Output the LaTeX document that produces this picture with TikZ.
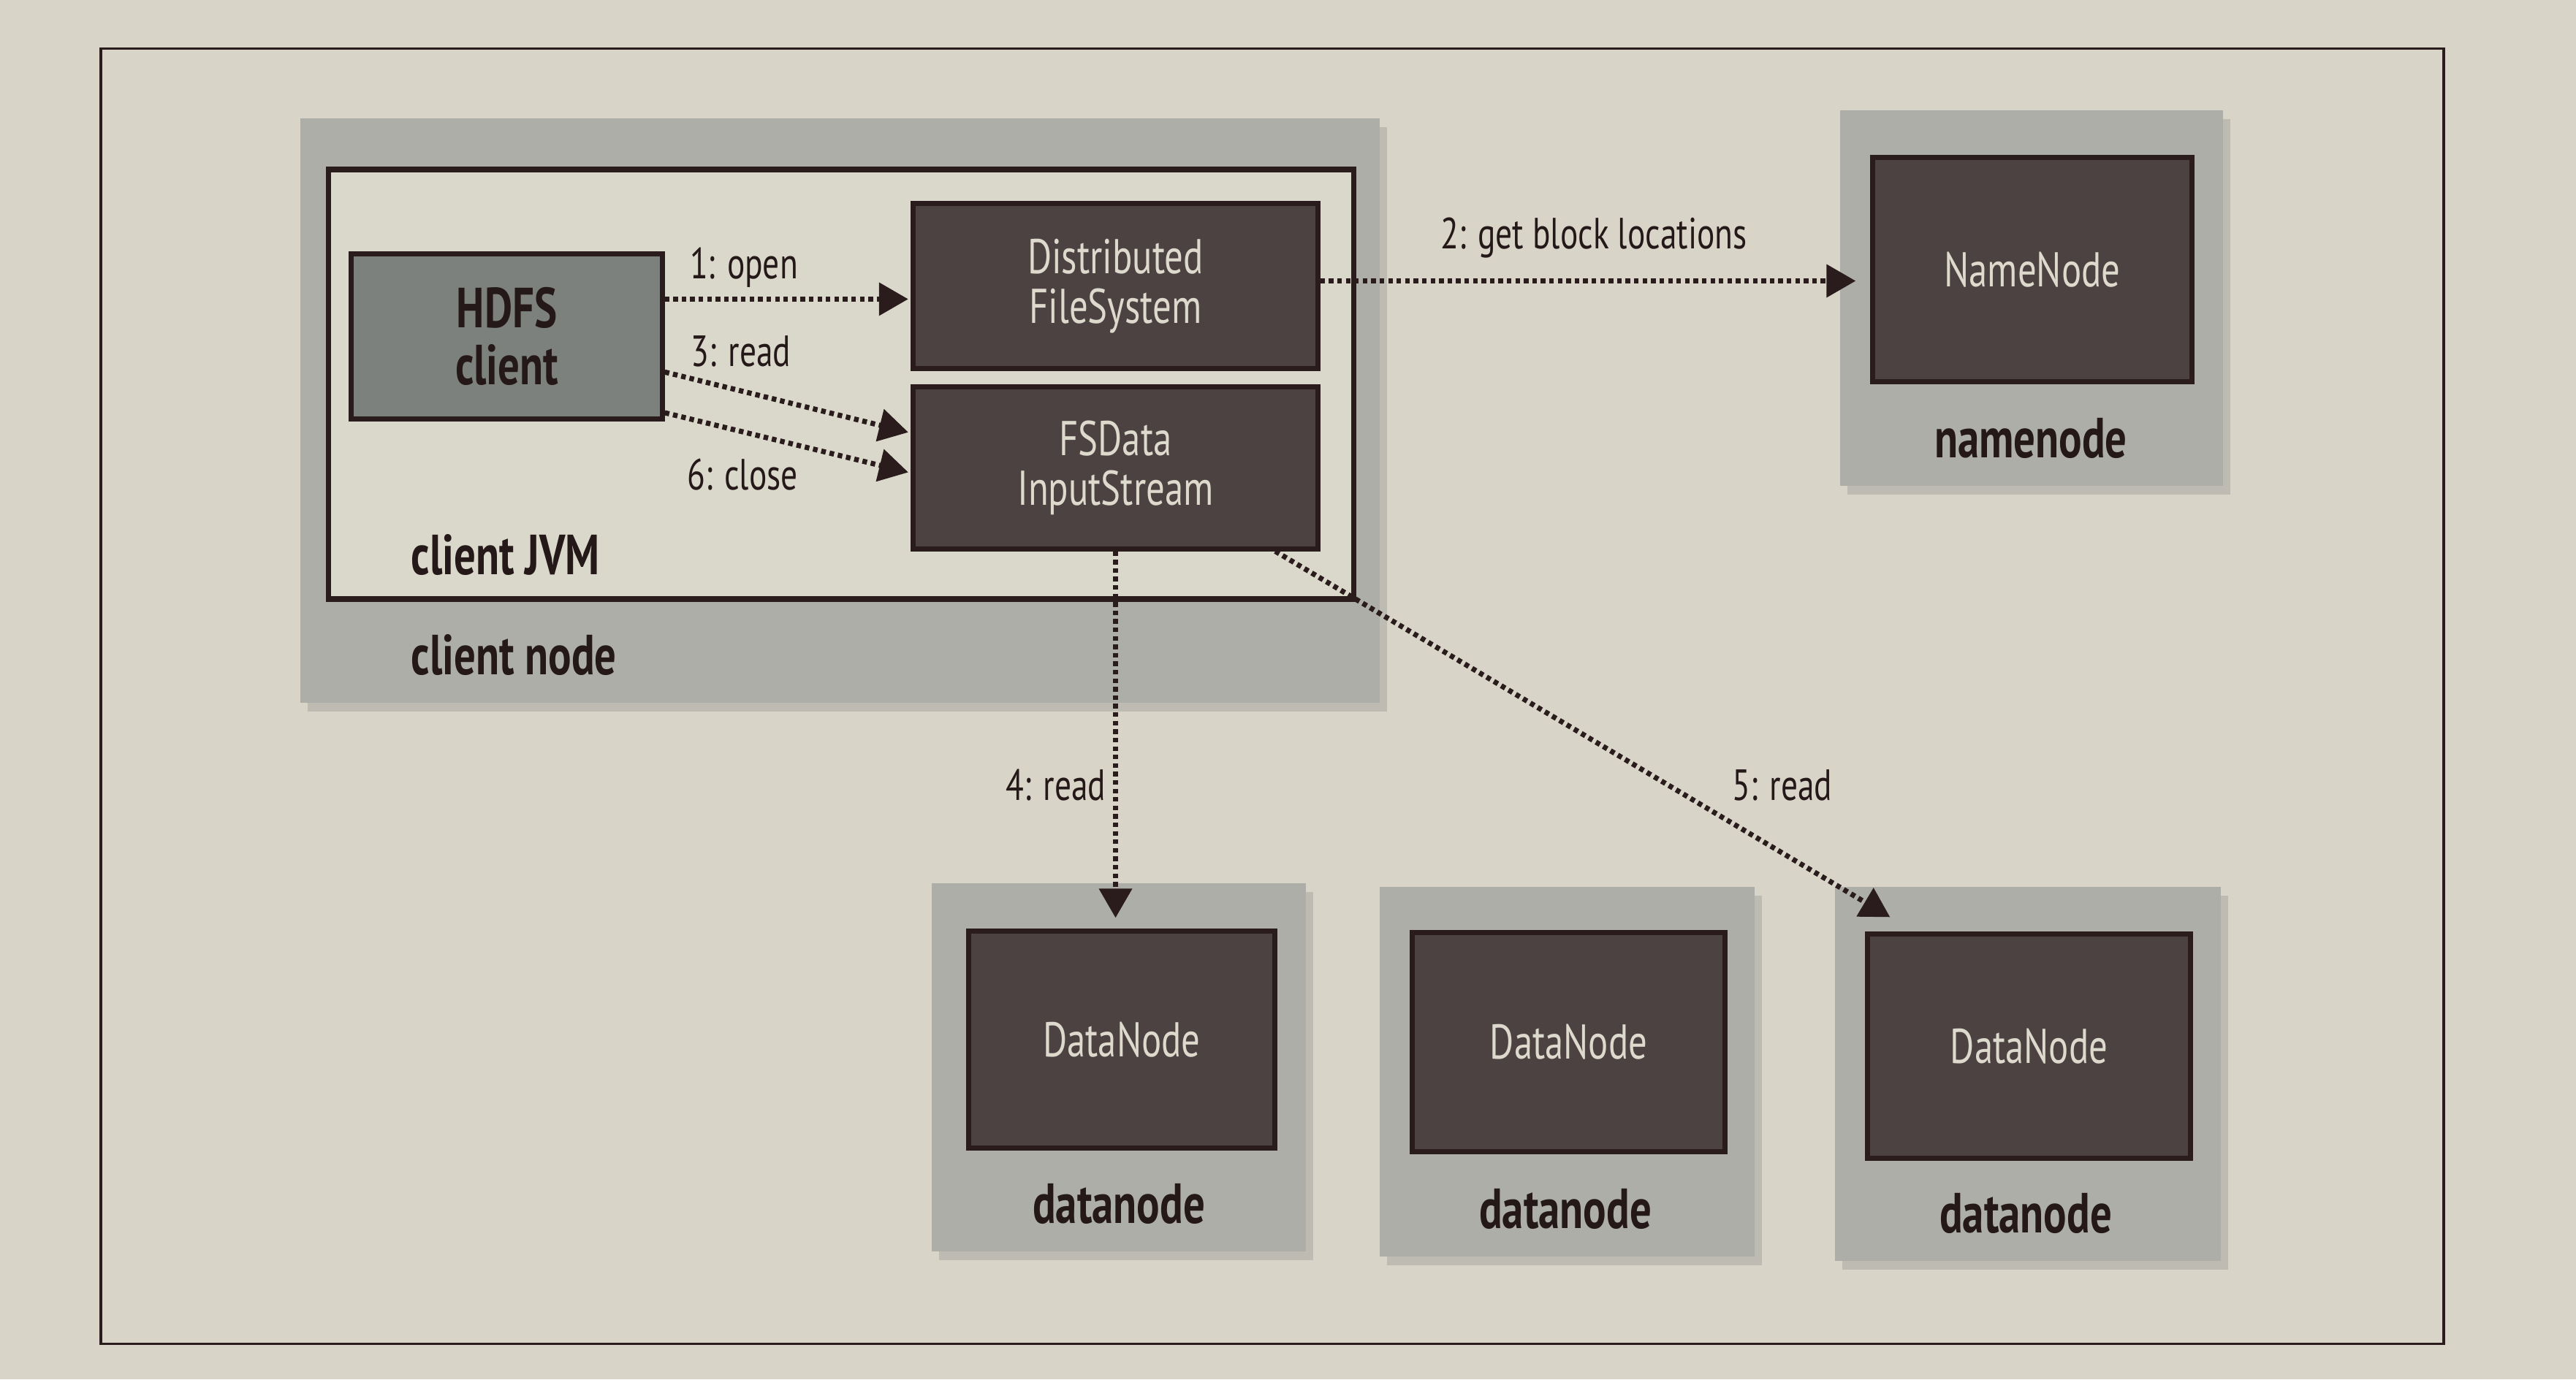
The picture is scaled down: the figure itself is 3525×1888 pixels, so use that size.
\documentclass[tikz,border=0pt]{standalone}
\usepackage{fontspec}
\setmainfont[FakeStretch=0.76]{PT Sans}
\usetikzlibrary{arrows.meta,shadows,calc}
\definecolor{pagecol}{RGB}{216,213,200}
\definecolor{graycol}{RGB}{172,174,167}
\definecolor{jvmcol}{RGB}{218,215,203}
\definecolor{midcol}{RGB}{125,129,125}
\definecolor{darkcol}{RGB}{76,66,66}
\definecolor{bordercol}{RGB}{42,28,28}
\definecolor{lighttext}{RGB}{222,217,205}
\definecolor{textcol}{RGB}{36,24,24}
\begin{document}
\begin{tikzpicture}[x=0.01cm,y=-0.01cm,
  graybox/.style={fill=graycol, inner sep=0pt,
    drop shadow={shadow xshift=0.1cm, shadow yshift=-0.12cm, opacity=0.3}},
  jvmbox/.style={fill=jvmcol, draw=bordercol, line width=2.2pt, inner sep=0pt},
  darkbox/.style={fill=darkcol, draw=bordercol, line width=2pt, inner sep=0pt,
    text=lighttext, align=center, font=\fontsize{19}{19.5}\selectfont},
  midbox/.style={fill=midcol, draw=bordercol, line width=2pt, inner sep=0pt,
    text=textcol, align=center, font=\bfseries\fontsize{22}{22}\selectfont},
  blbl/.style={text=textcol, font=\bfseries\fontsize{22}{24}\selectfont, inner sep=0pt},
  albl/.style={text=textcol, font=\fontsize{17}{20}\selectfont, inner sep=0pt},
  arr/.style={draw=bordercol, line width=2pt, dash pattern=on 1.8pt off 1.5pt,
    -{Triangle[length=0.4cm,width=0.44cm]}}
]
\fill[pagecol] (0,0) rectangle (3525,1888);
\useasboundingbox (0,0) rectangle (3525,1888);
\node[draw=bordercol, line width=1pt, minimum width=32.04cm, minimum height=17.72cm, inner sep=0pt] (frame) at (1741,953) {};

% client node
\node[graybox, minimum width=14.77cm, minimum height=8cm] (cnode) at (1149.5,562) {};
\node[jvmbox, minimum width=14.02cm, minimum height=5.88cm] (jvm) at (1151,526) {};
\node[midbox, minimum width=4.25cm, minimum height=2.25cm] (hdfs) at (693.5,460.5) {HDFS\\client};
\node[darkbox, minimum width=5.53cm, minimum height=2.25cm] (dfs) at (1526.5,391.5) {Distributed\\FileSystem};
\node[darkbox, minimum width=5.53cm, minimum height=2.21cm] (fsd) at (1526.5,640.5) {FSData\\InputStream};
\node[blbl, anchor=west] (jvmlbl) at (562,760) {client JVM};
\node[blbl, anchor=west] (cnlbl) at (562,897) {client node};

% namenode
\node[graybox, minimum width=5.24cm, minimum height=5.14cm] (nn) at (2780,408) {};
\node[darkbox, minimum width=4.36cm, minimum height=3.06cm] (nnin) at (2781,369) {NameNode};
\node[blbl] (nnlbl) at (2779,600) {namenode};

% datanodes
\node[graybox, minimum width=5.12cm, minimum height=5.04cm] (dn1) at (1531,1461) {};
\node[darkbox, minimum width=4.18cm, minimum height=2.96cm] (dn1in) at (1535,1423) {DataNode};
\node[blbl] (dn1lbl) at (1531,1648) {datanode};

\node[graybox, minimum width=5.13cm, minimum height=5.06cm] (dn2) at (2144.5,1467) {};
\node[darkbox, minimum width=4.27cm, minimum height=2.99cm] (dn2in) at (2146.5,1426.5) {DataNode};
\node[blbl] (dn2lbl) at (2142,1655) {datanode};

\node[graybox, minimum width=5.28cm, minimum height=5.12cm] (dn3) at (2775,1470) {};
\node[darkbox, minimum width=4.41cm, minimum height=3.06cm] (dn3in) at (2776.5,1432) {DataNode};
\node[blbl] (dn3lbl) at (2772,1661) {datanode};

% arrows
\coordinate (a1s) at ($(hdfs.north east)!0.28!(hdfs.south east)$);
\draw[arr, shorten >=1pt] (a1s) -- (a1s -| dfs.west);
\draw[arr, shorten >=1pt] ($(hdfs.north east)!0.71!(hdfs.south east)$) -- ($(fsd.north west)!0.29!(fsd.south west)$);
\draw[arr, shorten >=1pt] ($(hdfs.north east)!0.95!(hdfs.south east)$) -- ($(fsd.north west)!0.53!(fsd.south west)$);
\coordinate (a2s) at ($(dfs.north east)!0.47!(dfs.south east)$);
\draw[arr, shorten >=0.2cm] (a2s) -- (a2s -| nnin.west);
\draw[arr, shorten >=0.15cm] (fsd.south) -- (fsd.south |- dn1in.north);
\draw[arr] ($(fsd.south west)!0.89!(fsd.south east)$) -- ($(dn3in.north west)+(34,-20)$);

\node[albl] (l1) at (1018,366) {1: open};
\node[albl] (l3) at (1014,481) {3: read};
\node[albl] (l6) at (1016,650) {6: close};
\node[albl] (l2) at (2181,326) {2: get block locations};
\node[albl] (l4) at (1445,1075) {4: read};
\node[albl] (l5) at (2439,1075) {5: read};
\end{tikzpicture}
\end{document}
